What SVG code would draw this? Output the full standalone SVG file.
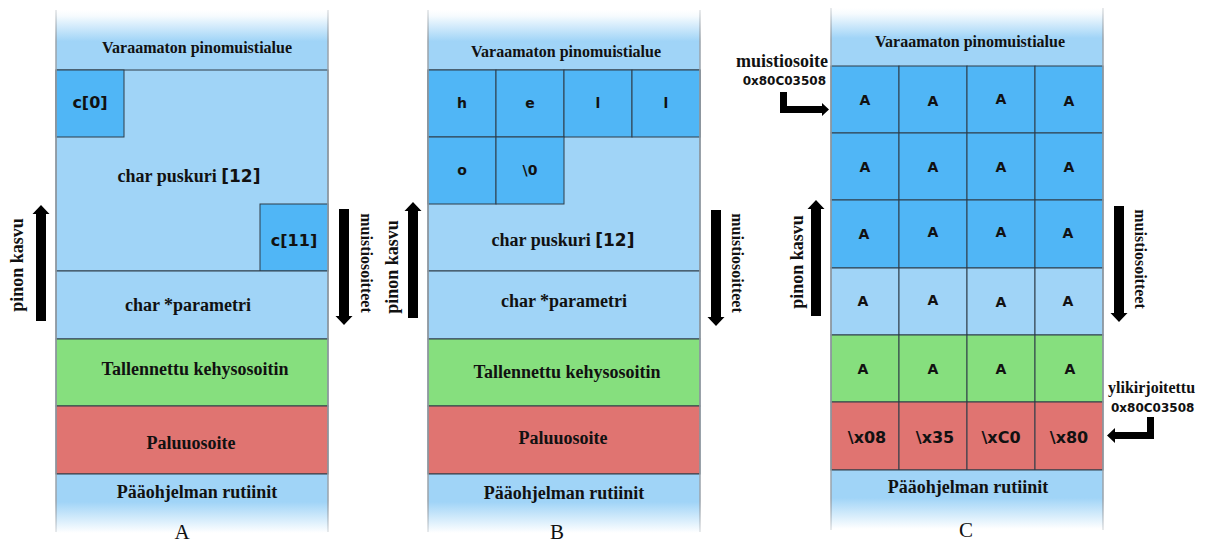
<svg xmlns="http://www.w3.org/2000/svg" width="1214" height="543" viewBox="0 0 1214 543">
  <defs>
    <linearGradient id="fadeTop" x1="0" y1="0" x2="0" y2="1">
      <stop offset="0" stop-color="#ffffff"/>
      <stop offset="0.1" stop-color="#f6fbfe"/>
      <stop offset="0.52" stop-color="#a0d4f7"/>
      <stop offset="1" stop-color="#a0d4f7"/>
    </linearGradient>
    <linearGradient id="fadeBottom" x1="0" y1="0" x2="0" y2="1">
      <stop offset="0" stop-color="#a0d4f7"/>
      <stop offset="0.45" stop-color="#a0d4f7"/>
      <stop offset="0.95" stop-color="#ffffff"/>
      <stop offset="1" stop-color="#ffffff"/>
    </linearGradient>
    <linearGradient id="sideFade" x1="0" y1="0" x2="0" y2="1">
      <stop offset="0" stop-color="#9aa3ab" stop-opacity="0.3"/>
      <stop offset="0.06" stop-color="#9aa3ab"/>
      <stop offset="0.94" stop-color="#9aa3ab"/>
      <stop offset="1" stop-color="#9aa3ab" stop-opacity="0.3"/>
    </linearGradient>
    <path id="upArrow" d="M0,0 L8.5,9 L5,9 L5,116 L-5,116 L-5,9 L-8.5,9 Z"/>
  </defs>
  <style>
    .bg { fill: #ffffff; }
    .lb { fill: #a0d4f7; stroke: #2e3c48; stroke-width: 1; }
    .db { fill: #50b6f6; stroke: #2e3c48; stroke-width: 1; }
    .gr { fill: #86df7e; stroke: #2e3c48; stroke-width: 1; }
    .rd { fill: #e07471; stroke: #2e3c48; stroke-width: 1; }
    .top { fill: url(#fadeTop); }
    .bot { fill: url(#fadeBottom); }
    .side { fill: url(#sideFade); }
    .sec { font-family: "Liberation Serif", "Times New Roman", serif; font-weight: bold; font-size: 18px; fill: #111; text-anchor: middle; }
    .hdr { font-family: "Liberation Serif", "Times New Roman", serif; font-weight: bold; font-size: 16px; fill: #111; text-anchor: middle; }
    .cell { font-family: "DejaVu Sans", Verdana, sans-serif; font-weight: bold; font-size: 14px; fill: #111; text-anchor: middle; }
    .cellL { font-family: "DejaVu Sans", Verdana, sans-serif; font-weight: bold; font-size: 16px; fill: #111; text-anchor: middle; }
    .mono { font-family: "DejaVu Sans", Verdana, sans-serif; font-weight: bold; font-size: 17px; }
    .addr { font-family: "DejaVu Sans", Verdana, sans-serif; font-weight: bold; font-size: 12px; fill: #111; }
    .side18 { font-family: "Liberation Serif", "Times New Roman", serif; font-weight: bold; font-size: 18px; fill: #111; text-anchor: middle; }
    .side16 { font-family: "Liberation Serif", "Times New Roman", serif; font-weight: bold; font-size: 16px; fill: #111; text-anchor: middle; }
    .cap { font-family: "Liberation Serif", "Times New Roman", serif; font-size: 21px; fill: #111; text-anchor: middle; }
    .arrow { fill: #000000; }
  </style>

  <rect class="bg" x="0" y="0" width="1214" height="543"/>

  <!-- Stack A: single char buffer -->
  <g id="stackA">
    <rect class="top" x="56" y="10" width="272" height="60"/>
    <rect class="lb" x="56" y="70" width="272" height="201"/>
    <rect class="db" x="56" y="70" width="68" height="67"/>
    <rect class="db" x="260" y="204" width="68" height="67"/>
    <rect class="lb" x="56" y="271" width="272" height="68"/>
    <rect class="gr" x="56" y="339" width="272" height="67"/>
    <rect class="rd" x="56" y="406" width="272" height="68"/>
    <rect class="bot" x="56" y="474" width="272" height="62"/>
    <line x1="56" y1="474" x2="328" y2="474" stroke="#2e3c48" stroke-width="1"/>
    <rect class="side" x="55.25" y="10" width="1.5" height="522"/>
    <rect class="side" x="327.25" y="10" width="1.5" height="522"/>
    <text class="hdr" x="197" y="53">Varaamaton pinomuistialue</text>
    <text class="cellL" x="90" y="108">c[0]</text>
    <text class="sec" x="189" y="182">char puskuri <tspan class="mono">[12]</tspan></text>
    <text class="cellL" x="294" y="246">c[11]</text>
    <text class="sec" x="188" y="311">char *parametri</text>
    <text class="sec" x="195" y="375">Tallennettu kehysosoitin</text>
    <text class="sec" x="191" y="449">Paluuosoite</text>
    <text class="sec" x="197" y="498">Pääohjelman rutiinit</text>
    <text class="cap" x="182" y="539">A</text>
  </g>

  <!-- Stack B: buffer holding "hello" -->
  <g id="stackB">
    <rect class="top" x="428" y="10" width="272" height="60"/>
    <rect class="lb" x="428" y="70" width="272" height="201"/>
    <rect class="db" x="428" y="70" width="68" height="67"/>
    <rect class="db" x="496" y="70" width="68" height="67"/>
    <rect class="db" x="564" y="70" width="68" height="67"/>
    <rect class="db" x="632" y="70" width="68" height="67"/>
    <rect class="db" x="428" y="137" width="68" height="67"/>
    <rect class="db" x="496" y="137" width="68" height="67"/>
    <rect class="lb" x="428" y="271" width="272" height="68"/>
    <rect class="gr" x="428" y="339" width="272" height="67"/>
    <rect class="rd" x="428" y="406" width="272" height="68"/>
    <rect class="bot" x="428" y="474" width="272" height="62"/>
    <line x1="428" y1="474" x2="700" y2="474" stroke="#2e3c48" stroke-width="1"/>
    <rect class="side" x="427.25" y="10" width="1.5" height="522"/>
    <rect class="side" x="699.25" y="10" width="1.5" height="522"/>
    <text class="hdr" x="566" y="57">Varaamaton pinomuistialue</text>
    <text class="cell" x="462" y="108">h</text>
    <text class="cell" x="530" y="108">e</text>
    <text class="cell" x="598" y="108">l</text>
    <text class="cell" x="666" y="108">l</text>
    <text class="cell" x="462" y="175">o</text>
    <text class="cell" x="530" y="175">\0</text>
    <text class="sec" x="563" y="246">char puskuri <tspan class="mono">[12]</tspan></text>
    <text class="sec" x="564" y="307">char *parametri</text>
    <text class="sec" x="567" y="378">Tallennettu kehysosoitin</text>
    <text class="sec" x="563" y="444">Paluuosoite</text>
    <text class="sec" x="564" y="499">Pääohjelman rutiinit</text>
    <text class="cap" x="557" y="539">B</text>
  </g>

  <!-- Stack C: overflowed buffer -->
  <g id="stackC">
    <rect class="top" x="831" y="8" width="272" height="58"/>
    <rect class="db" x="831" y="66" width="68" height="67"/>
    <rect class="db" x="899" y="66" width="68" height="67"/>
    <rect class="db" x="967" y="66" width="68" height="67"/>
    <rect class="db" x="1035" y="66" width="68" height="67"/>
    <rect class="db" x="831" y="133" width="68" height="67"/>
    <rect class="db" x="899" y="133" width="68" height="67"/>
    <rect class="db" x="967" y="133" width="68" height="67"/>
    <rect class="db" x="1035" y="133" width="68" height="67"/>
    <rect class="db" x="831" y="200" width="68" height="68"/>
    <rect class="db" x="899" y="200" width="68" height="68"/>
    <rect class="db" x="967" y="200" width="68" height="68"/>
    <rect class="db" x="1035" y="200" width="68" height="68"/>
    <rect class="lb" x="831" y="268" width="68" height="67"/>
    <rect class="lb" x="899" y="268" width="68" height="67"/>
    <rect class="lb" x="967" y="268" width="68" height="67"/>
    <rect class="lb" x="1035" y="268" width="68" height="67"/>
    <rect class="gr" x="831" y="335" width="68" height="67"/>
    <rect class="gr" x="899" y="335" width="68" height="67"/>
    <rect class="gr" x="967" y="335" width="68" height="67"/>
    <rect class="gr" x="1035" y="335" width="68" height="67"/>
    <rect class="rd" x="831" y="402" width="68" height="68"/>
    <rect class="rd" x="899" y="402" width="68" height="68"/>
    <rect class="rd" x="967" y="402" width="68" height="68"/>
    <rect class="rd" x="1035" y="402" width="68" height="68"/>
    <rect class="bot" x="831" y="470" width="272" height="62"/>
    <line x1="831" y1="470" x2="1103" y2="470" stroke="#2e3c48" stroke-width="1"/>
    <rect class="side" x="830.25" y="8" width="1.5" height="522"/>
    <rect class="side" x="1102.25" y="8" width="1.5" height="522"/>
    <text class="hdr" x="970" y="47">Varaamaton pinomuistialue</text>
    <g class="cell">
      <text x="865" y="105">A</text><text x="933" y="106">A</text><text x="1001" y="104">A</text><text x="1069" y="106">A</text>
      <text x="865" y="172">A</text><text x="933" y="172">A</text><text x="1001" y="172">A</text><text x="1069" y="172">A</text>
      <text x="864" y="239">A</text><text x="933" y="237">A</text><text x="1001" y="237">A</text><text x="1068" y="238">A</text>
      <text x="863" y="306">A</text><text x="933" y="305">A</text><text x="1001" y="307">A</text><text x="1068" y="306">A</text>
      <text x="863" y="374">A</text><text x="933" y="374">A</text><text x="1001" y="374">A</text><text x="1070" y="374">A</text>
    </g>
    <text class="cellL" x="867" y="443">\x08</text>
    <text class="cellL" x="935" y="443">\x35</text>
    <text class="cellL" x="1001" y="443">\xC0</text>
    <text class="cellL" x="1069" y="443">\x80</text>
    <text class="sec" x="968" y="493">Pääohjelman rutiinit</text>
    <text class="cap" x="966" y="537">C</text>
  </g>

  <!-- Side annotations -->
  <g id="labelsA">
    <text class="side18" transform="translate(23,265) rotate(-90)">pinon kasvu</text>
    <text class="side16" transform="translate(361,263) rotate(90)">muistiosoitteet</text>
  </g>
  <g id="labelsB">
    <text class="side18" transform="translate(398,267) rotate(-90)">pinon kasvu</text>
    <text class="side16" transform="translate(732,263) rotate(90)">muistiosoitteet</text>
  </g>
  <g id="labelsC">
    <text class="side18" transform="translate(803,262) rotate(-90)">pinon kasvu</text>
    <text class="side16" transform="translate(1135,259) rotate(90)">muistiosoitteet</text>
  </g>
  <g id="addrIn">
    <text class="hdr" style="font-size:18px;text-anchor:end" x="828" y="67">muistiosoite</text>
    <text class="addr" text-anchor="end" x="826" y="85">0x80C03508</text>
  </g>
  <g id="addrOut">
    <text class="hdr" style="text-anchor:start" x="1108" y="393">ylikirjoitettu</text>
    <text class="addr" x="1111" y="412">0x80C03508</text>
  </g>

  <!-- Connectors: growth / address arrows and pointers -->
  <g id="connectors" class="arrow">
    <use href="#upArrow" transform="translate(41,205)"/>
    <use href="#upArrow" transform="translate(344,325) rotate(180)"/>
    <use href="#upArrow" transform="translate(413,202)"/>
    <use href="#upArrow" transform="translate(716,326) rotate(180)"/>
    <use href="#upArrow" transform="translate(816,200)"/>
    <use href="#upArrow" transform="translate(1119,322) rotate(180)"/>
    <path d="M780,92 H787 V106 H822 V103 L829,109.5 L822,116 V113 H780 Z"/>
    <path d="M1154,417 H1147 V432 H1115 V428 L1107,435.5 L1115,443 V439 H1154 Z"/>
  </g>
</svg>
